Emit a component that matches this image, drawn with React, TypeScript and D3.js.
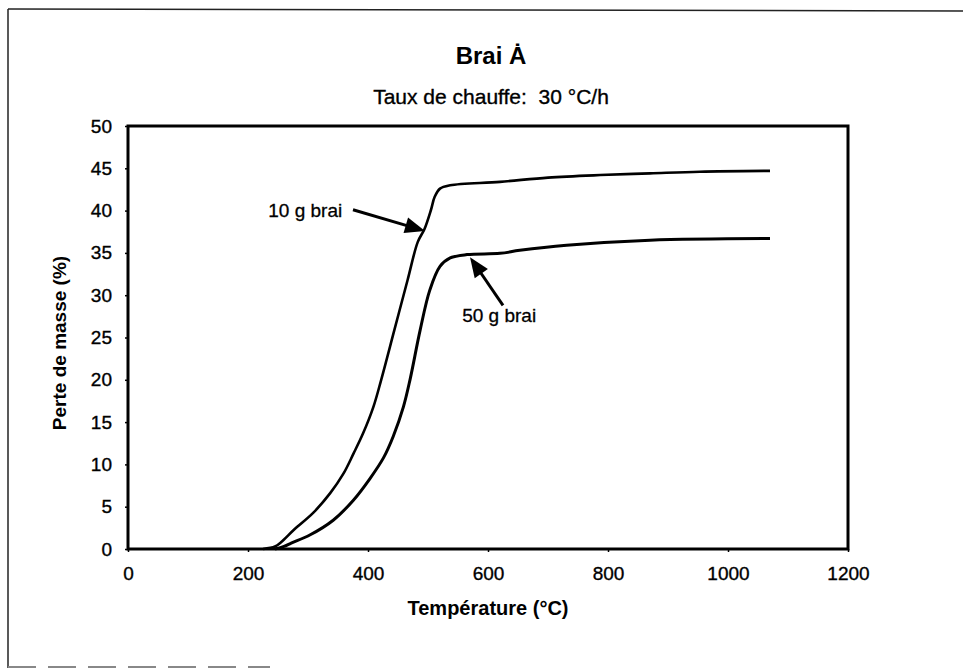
import React, { useEffect, useRef } from "react";
import * as d3 from "d3";

// 10 g brai
const temp10 = [225, 245, 255, 277, 309, 337, 359, 376, 392, 409, 422, 444, 466, 483, 494, 505, 511, 520, 537, 620, 700, 787, 870, 953, 1070];
const perte10 = [0, 0.3, 0.8, 2.3, 4.3, 6.6, 8.9, 11.3, 13.7, 16.8, 20.0, 25.9, 31.8, 36.3, 37.8, 40.1, 41.6, 42.6, 43.0, 43.4, 43.9, 44.2, 44.4, 44.6, 44.7];

// 50 g brai
const temp50 = [245, 260, 272, 303, 342, 376, 403, 426, 442, 459, 470, 487, 503, 520, 537, 565, 620, 653, 731, 870, 1070];
const perte50 = [0, 0.3, 0.7, 1.65, 3.4, 5.8, 8.3, 10.8, 13.3, 16.8, 20.0, 25.9, 30.6, 33.4, 34.4, 34.8, 34.95, 35.3, 35.9, 36.5, 36.7];

const xTicks = [0, 200, 400, 600, 800, 1000, 1200];
const yTicks = [0, 5, 10, 15, 20, 25, 30, 35, 40, 45, 50];

// annotations (data coords): label position and arrow from -> to
const labelNames = ["10 g brai", "50 g brai"];
const labelT = [357, 557];
const labelP = [39.3, 26.8];
const arrowFrom = [[375, 40.1], [625, 28.8]];
const arrowTo = [[495, 37.6], [570, 34.5]];

const W = 963;
const H = 670;
const font = "'Liberation Sans', Arial, sans-serif";

const x = d3.scaleLinear().domain([0, 1200]).range([128, 848]);
const y = d3.scaleLinear().domain([0, 50]).range([549, 126]);

const line = d3
  .line<[number, number]>()
  .x((d) => x(d[0]))
  .y((d) => y(d[1]))
  .curve(d3.curveCatmullRom.alpha(0.5));

function arrowHead(from: number[], to: number[]) {
  const x1 = x(from[0]), y1 = y(from[1]);
  const x2 = x(to[0]), y2 = y(to[1]);
  const len = Math.hypot(x2 - x1, y2 - y1);
  const ux = (x2 - x1) / len, uy = (y2 - y1) / len;
  const L = 20, hw = 8;
  const bx = x2 - ux * L, by = y2 - uy * L;
  return {
    line: [x1, y1, bx + ux * 2, by + uy * 2],
    head: `${x2},${y2} ${bx - uy * hw},${by + ux * hw} ${bx + uy * hw},${by - ux * hw}`,
  };
}

export default function App() {
  const xRef = useRef<SVGGElement>(null);
  const yRef = useRef<SVGGElement>(null);

  useEffect(() => {
    document.body.style.margin = "0";
    const gx = d3.select(xRef.current!);
    gx.selectAll("*").remove();
    gx.call(d3.axisBottom(x).tickValues(xTicks).tickSize(3).tickPadding(15).tickFormat(d3.format("d")));
    const gy = d3.select(yRef.current!);
    gy.selectAll("*").remove();
    gy.call(d3.axisLeft(y).tickValues(yTicks).tickSize(3).tickPadding(13).tickFormat(d3.format("d")));
    [gx, gy].forEach((g) => {
      g.select(".domain").remove();
      g.selectAll("line").attr("stroke", "#000").attr("stroke-width", 1.5);
      g.selectAll("text")
        .attr("font-family", font)
        .attr("font-size", 19)
        .attr("fill", "#000")
        .attr("stroke", "#000")
        .attr("stroke-width", 0.35);
    });
  }, []);

  const s10 = temp10.map((t, i) => [t, perte10[i]] as [number, number]);
  const s50 = temp50.map((t, i) => [t, perte50[i]] as [number, number]);

  return (
    <svg width={W} height={H} style={{ position: "absolute", left: 0, top: 0, background: "#fff" }}>
      {/* outer frame */}
      <line x1={8} y1={9} x2={963} y2={11} stroke="#222" strokeWidth={1.5} />
      <line x1={8} y1={9} x2={8} y2={668} stroke="#222" strokeWidth={1.5} />
      <line x1={8} y1={667} x2={270} y2={667} stroke="#888" strokeWidth={2} strokeDasharray="28 12" />

      <text x={491} y={64} textAnchor="middle" fontFamily={font} fontWeight="bold" fontSize={24}>
        Brai Ȧ
      </text>
      <text
        x={491}
        y={104}
        textAnchor="middle"
        fontFamily={font}
        fontSize={21}
        stroke="#000"
        strokeWidth={0.35}
        style={{ whiteSpace: "pre" }}
      >
        {"Taux de chauffe:  30 °C/h"}
      </text>

      <g ref={xRef} transform={`translate(0,${y(0)})`} />
      <g ref={yRef} transform={`translate(${x(0)},0)`} />

      <rect
        x={x(0)}
        y={y(50)}
        width={x(1200) - x(0)}
        height={y(0) - y(50)}
        fill="none"
        stroke="#000"
        strokeWidth={3}
      />

      <path d={line(s10) || ""} fill="none" stroke="#000" strokeWidth={2.6} />
      <path d={line(s50) || ""} fill="none" stroke="#000" strokeWidth={3} />

      {labelNames.map((n, i) => {
        const a = arrowHead(arrowFrom[i], arrowTo[i]);
        return (
          <g key={n}>
            <line x1={a.line[0]} y1={a.line[1]} x2={a.line[2]} y2={a.line[3]} stroke="#000" strokeWidth={3} />
            <polygon points={a.head} fill="#000" />
            <text
              x={x(labelT[i])}
              y={y(labelP[i])}
              textAnchor={i === 0 ? "end" : "start"}
              fontFamily={font}
              fontSize={19}
              stroke="#000"
              strokeWidth={0.3}
            >
              {n}
            </text>
          </g>
        );
      })}

      <text x={488} y={615} textAnchor="middle" fontFamily={font} fontWeight="bold" fontSize={20}>
        Température (°C)
      </text>
      <text
        transform={`translate(66,343) rotate(-90)`}
        textAnchor="middle"
        fontFamily={font}
        fontWeight="bold"
        fontSize={19}
      >
        Perte de masse (%)
      </text>
    </svg>
  );
}
